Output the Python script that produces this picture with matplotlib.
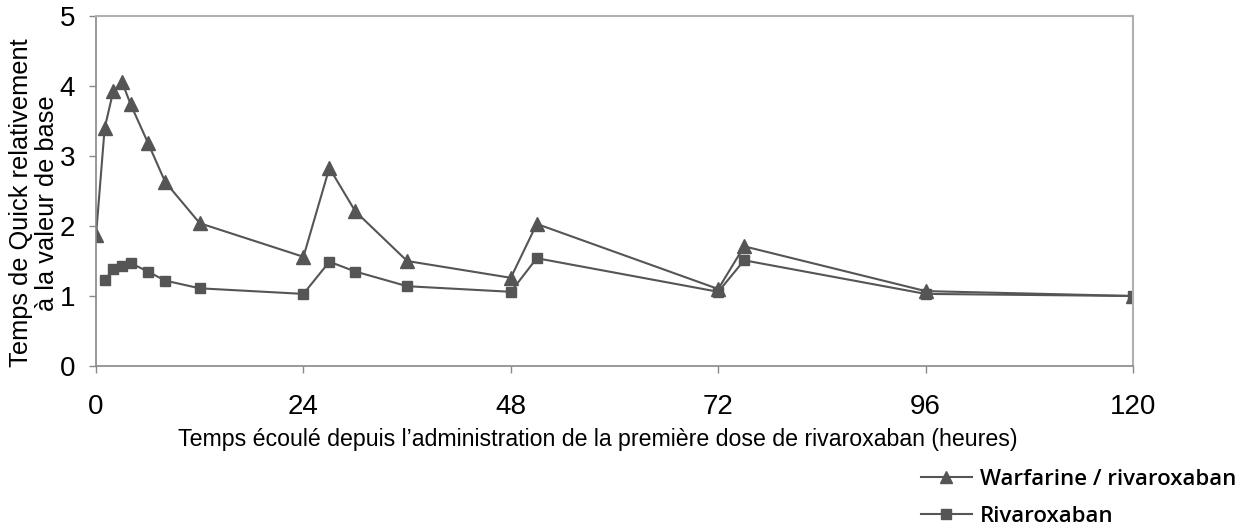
import matplotlib.pyplot as plt
from matplotlib.lines import Line2D

# heures apres la premiere dose
hours_warf = [0, 1, 2, 3, 4, 6, 8, 12, 24, 27, 30, 36, 48, 51, 72, 75, 96, 120]
warfarine = [1.87, 3.40, 3.93, 4.06, 3.74, 3.19, 2.63, 2.04, 1.56, 2.83, 2.21, 1.50,
             1.26, 2.03, 1.10, 1.71, 1.07, 1.00]

hours_riva = [1, 2, 3, 4, 6, 8, 12, 24, 27, 30, 36, 48, 51, 72, 75, 96, 120]
rivaroxaban = [1.23, 1.38, 1.43, 1.47, 1.35, 1.22, 1.11, 1.03, 1.49, 1.35, 1.14,
               1.06, 1.54, 1.06, 1.51, 1.03, 1.00]

xticks = [0, 24, 48, 72, 96, 120]
yticks = [0, 1, 2, 3, 4, 5]

plt.rcParams['font.family'] = ['Liberation Sans', 'DejaVu Sans']

fig = plt.figure(figsize=(12.44, 5.27), dpi=100)
ax = fig.add_axes([0.0772, 0.3055, 0.8336, 0.6641])

col = '#555555'
ax.plot(hours_warf, warfarine, color=col, lw=1.5, marker='^', markersize=10,
        label='Warfarine / rivaroxaban')
ax.plot(hours_riva, rivaroxaban, color=col, lw=1.5, marker='s', markersize=7.5,
        label='Rivaroxaban')

ax.set_xlim(0, 120)
ax.set_ylim(0, 5)
ax.set_xticks(xticks)
ax.set_yticks(yticks)
ax.tick_params(axis='both', labelsize=20, colors='#888888', labelcolor='black',
               length=5, width=1)
ax.tick_params(axis='x', pad=15)
ax.tick_params(axis='y', pad=10)
for s in ['left', 'bottom']:
    ax.spines[s].set_color('#888888')
    ax.spines[s].set_linewidth(1.2)
for s in ['top', 'right']:
    ax.spines[s].set_color('#b0b0b0')
    ax.spines[s].set_linewidth(1.5)

ax.set_xlabel("Temps écoulé depuis l\u2019administration de la première dose de rivaroxaban (heures)",
              fontsize=16.7)
ax.xaxis.set_label_coords(0.4836, -0.178)
ax.set_ylabel("Temps de Quick relativement\nà la valeur de base", fontsize=18.3,
              linespacing=1.08)
ax.yaxis.set_label_coords(-0.036, 0.466)

handles = [Line2D([], [], color=col, lw=1.5, marker='^', markersize=8),
           Line2D([], [], color=col, lw=1.5, marker='s', markersize=6.5)]
fig.legend(handles, ['Warfarine / rivaroxaban', 'Rivaroxaban'],
           loc='upper left', bbox_to_anchor=(0.733, 0.127),
           frameon=False, handlelength=2.3, handletextpad=0.35, labelspacing=0.7,
           borderaxespad=0.0,
           prop={'family': 'Open Sans', 'weight': 'semibold', 'size': 16})

fig.savefig('out.png', dpi=100)
